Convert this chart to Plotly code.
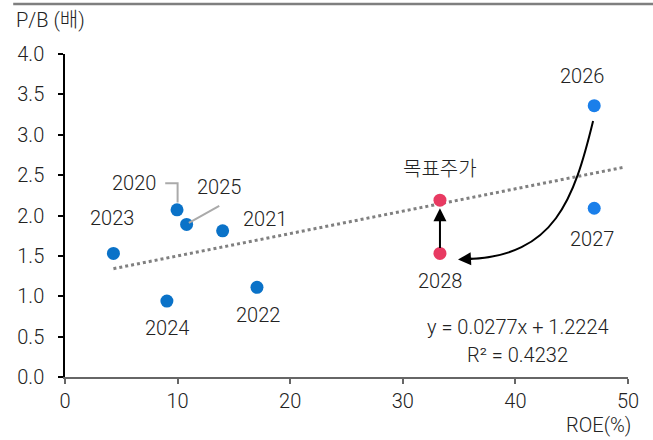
import plotly.graph_objects as go

years_blue = ["2020", "2021", "2022", "2023", "2024", "2025"]
roe_blue = [9.95, 14.0, 17.05, 4.3, 9.05, 10.8]
pb_blue = [2.07, 1.81, 1.11, 1.53, 0.94, 1.89]

years_fc = ["2026", "2027"]
roe_fc = [47.0, 47.0]
pb_fc = [3.36, 2.09]

names_target = ["2028", "목표주가"]
roe_target = [33.3, 33.3]
pb_target = [1.53, 2.19]

slope, intercept = 0.0277, 1.2224
trend_x = [4.3, 49.7]
trend_y = [slope * v + intercept for v in trend_x]

FONT = "Roboto, 'Noto Sans CJK KR', sans-serif"
TXT = "#222222"

fig = go.Figure()
fig.add_trace(go.Scatter(x=trend_x, y=trend_y, mode="lines",
                         line=dict(color="#808080", width=3, dash="dot"),
                         hoverinfo="skip"))
fig.add_trace(go.Scatter(x=roe_blue, y=pb_blue, mode="markers",
                         marker=dict(color="#0A72C8", size=13)))
fig.add_trace(go.Scatter(x=roe_fc, y=pb_fc, mode="markers",
                         marker=dict(color="#1A7FEA", size=13)))
fig.add_trace(go.Scatter(x=roe_target, y=pb_target, mode="markers",
                         marker=dict(color="#E83A62", size=13)))

labels = [
    ("2023", 4.2, 1.97), ("2024", 9.06, 0.61), ("2022", 17.1, 0.77),
    ("2021", 17.8, 1.96), ("2025", 13.7, 2.35), ("2020", 6.1, 2.40),
    ("2026", 45.9, 3.73), ("2027", 46.8, 1.71), ("2028", 33.3, 1.19),
    ("목표주가", 33.3, 2.58),
    ("y = 0.0277x + 1.2224", 40.2, 0.62),
    ("R² = 0.4232", 40.2, 0.27),
]
for t, x, y in labels:
    fig.add_annotation(x=x, y=y, text=t, showarrow=False,
                       font=dict(family=FONT, size=20, color=TXT, weight=300))

# leader lines
fig.add_shape(type="path", path="M 8.9 2.40 L 10.0 2.40 L 10.0 2.16",
              line=dict(color="#aaaaaa", width=2), xref="x", yref="y")
fig.add_shape(type="line", x0=11.0, y0=1.91, x1=13.7, y1=2.12,
              line=dict(color="#aaaaaa", width=2), xref="x", yref="y")

# curved arrow
fig.add_shape(type="path",
              path="M 46.9 3.17 C 45.2 2.2 43.5 1.5 35.8 1.46",
              line=dict(color="black", width=2), xref="x", yref="y")
fig.add_annotation(x=34.9, y=1.455, ax=36.3, ay=1.465, axref="x", ayref="y",
                   xref="x", yref="y", text="", showarrow=True,
                   arrowhead=2, arrowsize=1.3, arrowwidth=2, arrowcolor="black")
# vertical arrow
fig.add_annotation(x=33.3, y=2.09, ax=33.3, ay=1.58, axref="x", ayref="y",
                   xref="x", yref="y", text="", showarrow=True,
                   arrowhead=2, arrowsize=1.3, arrowwidth=2, arrowcolor="black")

# top border line
fig.add_shape(type="line", xref="paper", yref="paper", x0=-0.092, x1=1.05,
              y0=1.155, y1=1.155, line=dict(color="#7f7f7f", width=2.5))

fig.add_annotation(xref="paper", yref="paper", x=-0.09, y=1.105, text="P/B (배)",
                   showarrow=False, xanchor="left", yanchor="middle",
                   font=dict(family=FONT, size=20, color=TXT, weight=300))
fig.add_annotation(xref="paper", yref="paper", x=1.008, y=-0.15, text="ROE(%)",
                   showarrow=False, xanchor="right", yanchor="middle",
                   font=dict(family=FONT, size=20, color=TXT, weight=300))

fig.update_layout(
    width=653, height=440, showlegend=False,
    margin=dict(l=65, r=25, t=54, b=63),
    paper_bgcolor="white", plot_bgcolor="white",
    font=dict(family=FONT, size=20, color=TXT, weight=300),
)
fig.update_xaxes(range=[0, 50], tickvals=[0, 10, 20, 30, 40, 50], showgrid=False,
                 zeroline=False, showline=True, linecolor="#666666", linewidth=1.5,
                 ticks="outside", ticklen=5, tickcolor="#666666", tickwidth=1.5,
                 tickfont=dict(size=20, color=TXT, weight=300))
fig.update_yaxes(range=[0, 4], tickvals=[0, 0.5, 1, 1.5, 2, 2.5, 3, 3.5, 4],
                 tickformat=".1f", showgrid=False, zeroline=False, showline=True,
                 linecolor="black", linewidth=1.5, ticks="outside", ticklen=5,
                 tickcolor="black", tickwidth=1.5, ticklabelstandoff=10,
                 tickfont=dict(size=20, color=TXT, weight=300))

fig.write_html("out.html")
